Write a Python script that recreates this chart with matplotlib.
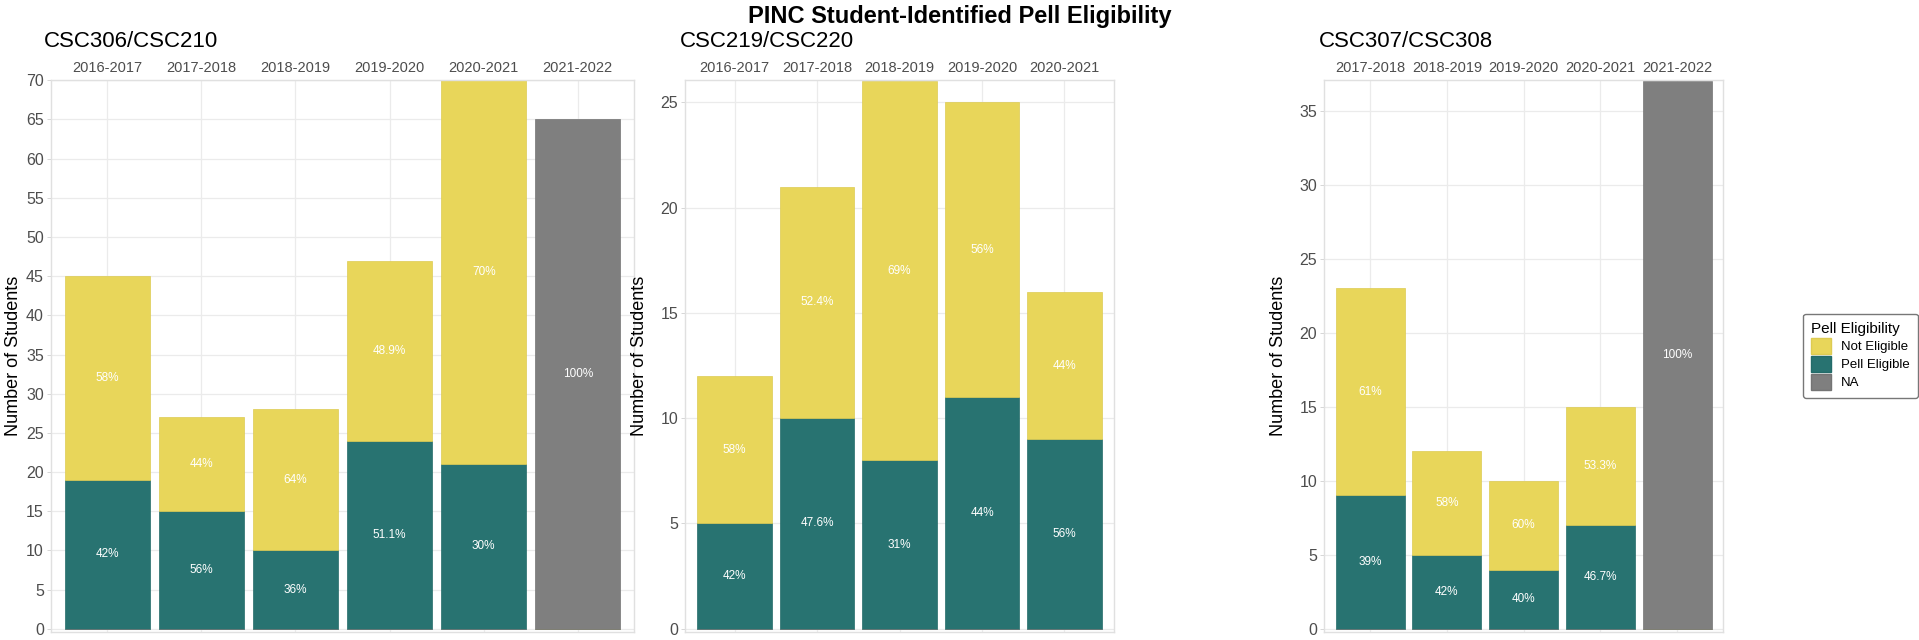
import matplotlib
matplotlib.use("Agg")
from matplotlib import pyplot as plt
from matplotlib.patches import Patch

plt.rcParams['font.family'] = ['Liberation Sans', 'DejaVu Sans']

# ---- data ----
p1_name = 'CSC306/CSC210'
p1_years = ['2016-2017', '2017-2018', '2018-2019', '2019-2020', '2020-2021', '2021-2022']
p1_pell = [19, 15, 10, 24, 21, 0]
p1_not = [26, 12, 18, 23, 49, 0]
p1_na = [0, 0, 0, 0, 0, 65]
p1_pell_lab = ['42%', '56%', '36%', '51.1%', '30%', '']
p1_not_lab = ['58%', '44%', '64%', '48.9%', '70%', '']
p1_na_lab = ['', '', '', '', '', '100%']

p2_name = 'CSC219/CSC220'
p2_years = ['2016-2017', '2017-2018', '2018-2019', '2019-2020', '2020-2021']
p2_pell = [5, 10, 8, 11, 9]
p2_not = [7, 11, 18, 14, 7]
p2_na = [0, 0, 0, 0, 0]
p2_pell_lab = ['42%', '47.6%', '31%', '44%', '56%']
p2_not_lab = ['58%', '52.4%', '69%', '56%', '44%']
p2_na_lab = ['', '', '', '', '']

p3_name = 'CSC307/CSC308'
p3_years = ['2017-2018', '2018-2019', '2019-2020', '2020-2021', '2021-2022']
p3_pell = [9, 5, 4, 7, 0]
p3_not = [14, 7, 6, 8, 0]
p3_na = [0, 0, 0, 0, 37]
p3_pell_lab = ['39%', '42%', '40%', '46.7%', '']
p3_not_lab = ['61%', '58%', '60%', '53.3%', '']
p3_na_lab = ['', '', '', '', '100%']

c_not = '#E8D65A'
c_pell = '#287371'
c_na = '#7F7F7F'
grid_c = '#EBEBEB'
txt_c = '#4D4D4D'

fig = plt.figure(figsize=(19.19, 6.40), dpi=100)


def draw_panel(rect, name, years, pell, notel, na, pell_lab, not_lab, na_lab, top, ylabel_pad):
    ax = fig.add_axes(rect)
    x = list(range(len(years)))
    ax.bar(x, pell, width=0.9, color=c_pell, edgecolor='#236B69', linewidth=0.5, zorder=2)
    ax.bar(x, notel, bottom=pell, width=0.9, color=c_not, edgecolor='#DDCB52', linewidth=0.5, zorder=2)
    ax.bar(x, na, width=0.9, color=c_na, edgecolor='#747474', linewidth=0.5, zorder=2)
    for i in x:
        if pell_lab[i]:
            ax.text(i, pell[i] / 2, pell_lab[i], ha='center', va='center', color='white', fontsize=8.5, zorder=3)
        if not_lab[i]:
            ax.text(i, pell[i] + notel[i] / 2, not_lab[i], ha='center', va='center', color='white', fontsize=8.5, zorder=3)
        if na_lab[i]:
            ax.text(i, na[i] / 2, na_lab[i], ha='center', va='center', color='white', fontsize=8.5, zorder=3)
    ax.set_xlim(-0.6, len(years) - 0.4)
    ax.set_ylim(-top * 0.006, top)
    ax.set_yticks(range(0, int(top) + 1, 5))
    ax.xaxis.tick_top()
    ax.set_xticks(x)
    ax.set_xticklabels(years)
    ax.tick_params(axis='x', length=0, pad=4, labelsize=10.5, colors=txt_c)
    ax.tick_params(axis='y', length=3, width=0.6, color='#D0D0D0', pad=2, labelsize=11.5, labelcolor=txt_c)
    ax.grid(True, color=grid_c, linewidth=0.9, zorder=0)
    ax.set_axisbelow(True)
    for s in ax.spines.values():
        s.set_color('#E0E0E0')
        s.set_linewidth(1.0)
    ax.set_ylabel('Number of Students', fontsize=13, labelpad=ylabel_pad)
    ax.set_title(name, loc='left', fontsize=16, pad=24, x=-0.012)
    return ax


draw_panel([0.0265, 0.0125, 0.304, 0.862], p1_name, p1_years, p1_pell, p1_not, p1_na,
           p1_pell_lab, p1_not_lab, p1_na_lab, 70, 3)
draw_panel([0.357, 0.0125, 0.2235, 0.862], p2_name, p2_years, p2_pell, p2_not, p2_na,
           p2_pell_lab, p2_not_lab, p2_na_lab, 26.05, 9)
draw_panel([0.690, 0.0125, 0.208, 0.862], p3_name, p3_years, p3_pell, p3_not, p3_na,
           p3_pell_lab, p3_not_lab, p3_na_lab, 37.05, 9)

fig.suptitle('PINC Student-Identified Pell Eligibility', fontsize=17, fontweight='bold', y=0.992)

handles = [Patch(facecolor=c_not, edgecolor='#DDCB52', label='Not Eligible'),
           Patch(facecolor=c_pell, edgecolor='#236B69', label='Pell Eligible'),
           Patch(facecolor=c_na, edgecolor='#747474', label='NA')]
leg = fig.legend(handles=handles, title='Pell Eligibility', loc='center',
                 bbox_to_anchor=(0.9695, 0.444), fontsize=9.5, title_fontsize=11,
                 frameon=True, fancybox=True, edgecolor='#555555', handlelength=1.5,
                 handleheight=1.5, handletextpad=0.8, labelspacing=0.15, borderpad=0.6,
                 alignment='left')
leg.get_frame().set_linewidth(1.0)

fig.savefig('out.png', dpi=100)
